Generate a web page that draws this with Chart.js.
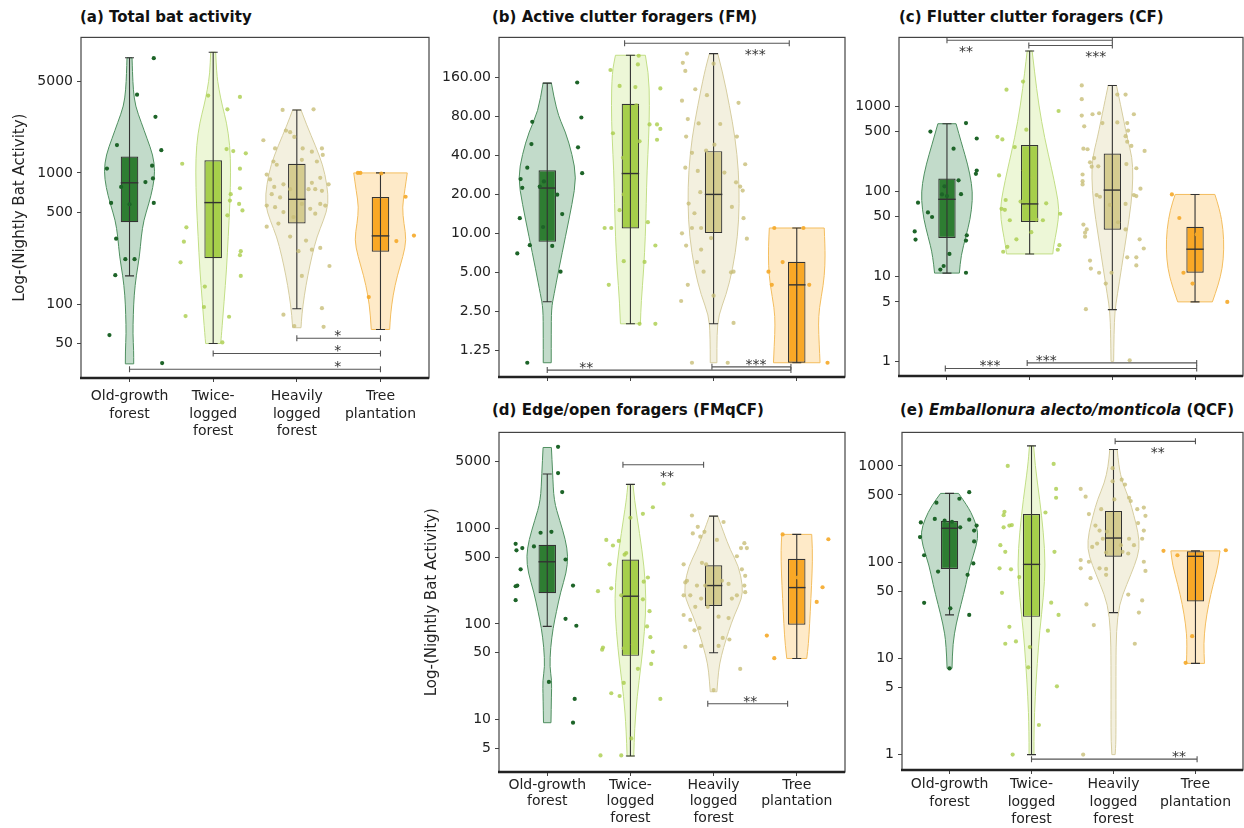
<!DOCTYPE html>
<html>
<head>
<meta charset="utf-8">
<script src="https://cdn.jsdelivr.net/npm/chart.js@4.4.1/dist/chart.umd.min.js"></script>
<style>
  body { margin: 0; background: #fff; width: 1244px; height: 828px; position: relative; overflow: hidden; font-family: 'DejaVu Sans', sans-serif; }
  .panel { position: absolute; }
  .ttl { position: absolute; font-weight: bold; font-size: 15px; line-height: 18px; color: #111; white-space: nowrap; }
</style>
</head>
<body>
<div class="ttl" style="left:80px;top:8px">(a) Total bat activity</div>
<div class="ttl" style="left:492px;top:8px">(b) Active clutter foragers (FM)</div>
<div class="ttl" style="left:899px;top:8px">(c) Flutter clutter foragers (CF)</div>
<div class="ttl" style="left:492px;top:401px">(d) Edge/open foragers (FMqCF)</div>
<div class="ttl" style="left:900px;top:401px">(e) <i>Emballonura alecto/monticola</i> (QCF)</div>

<script>
/* ===========================
   DATA
=========================== */
const categories = ["Old-growth forest", "Twice-logged forest", "Heavily logged forest", "Tree plantation"];
const categoryLines = [["Old-growth", "forest"], ["Twice-", "logged", "forest"], ["Heavily", "logged", "forest"], ["Tree", "plantation"]];

// box stats per habitat: [whisker low, q1, median, q3, whisker high]
// violins: [value, half width in category units], top to bottom
// points: [jitter in category units, value]
// sig: [from, to, level, stars, label position, side]

// (a) Total bat activity
const ticksA = [50, 100, 500, 1000, 5000];
const rangeA = [27.3, 10800];
const boxA = [[164, 421, 841, 1332, 7550], [50, 224, 594, 1250, 8320], [92, 411, 629, 1174, 3020], [64, 251, 331, 655, 1000]];
const violinA = [
  [[7550,.03],[5740,.036],[4300,.045],[3235,.07],[2430,.14],[1825,.21],[1370,.28],[1030,.305],[773,.28],[580,.23],[436,.17],[327,.14],[232,.12],[164,.08],[117,.055],[83,.045],[59,.04],[44,.05],[35,.05]],
  [[8320,.03],[5740,.04],[4300,.07],[3235,.11],[2430,.16],[1625,.2],[1030,.21],[580,.2],[327,.18],[185,.16],[104,.13],[59,.1],[50,.09]],
  [[3020,.05],[2295,.12],[1625,.22],[1154,.31],[818,.36],[580,.38],[436,.32],[327,.24],[232,.18],[164,.13],[117,.09],[83,.06],[66,.05]],
  [[1000,.32],[730,.29],[548,.26],[411,.28],[309,.31],[232,.27],[164,.2],[117,.15],[83,.12],[64,.11]]
];
const pointsA = [
  [[.29,7500],[.09,3950],[.31,2680],[.38,1490],[-.15,1630],[-.27,1080],[.27,1135],[.28,908],[.19,852],[-.1,782],[-.22,590],[.29,590],[0,577],[-.16,315],[-.05,220],[.06,220],[-.17,166],[-.24,58],[.39,35.5]],
  [[-.06,3890],[.32,3800],[.17,3055],[-.37,1175],[.16,1520],[.24,1468],[.39,1410],[.32,1077],[.32,764],[.21,689],[.2,615],[.31,580],[.35,518],[.17,475],[-.32,385],[-.35,299],[-.39,208],[.33,253],[.32,236],[.33,164],[-.1,136],[-.11,95],[-.33,81],[.19,80],[.11,51],[.06,818],[-.06,327]],
  [[-.17,3020],[.2,3055],[-.4,1774],[-.13,2103],[-.08,2045],[-.03,1880],[-.26,1538],[.07,1538],[.18,1452],[.3,1538],[.31,1371],[-.28,1222],[-.24,1154],[.06,1258],[.24,1222],[-.36,972],[-.32,892],[-.27,782],[-.16,818],[.18,841],[.28,918],[.38,818],[-.3,689],[-.2,650],[-.08,752],[.14,752],[.22,752],[.3,730],[-.36,564],[-.26,548],[-.16,503],[-.04,461],[.06,580],[.16,532],[.28,580],[.34,564],[.22,489],[-.36,389],[-.22,411],[-.08,327],[.11,305],[.18,260],[.02,253],[.28,268],[.39,195],[.06,164],[.3,93],[-.16,83],[.32,67],[-.03,68]],
  [[-.27,1000],[-.24,1000],[.3,658],[.19,302],[.4,333],[-.14,113],[.01,990]]
];
const sigA = [[2, 3, 54.8, "*", 2.49, "above"], [1, 3, 42, "*", 2.49, "above"], [0, 3, 31.8, "*", 2.49, "above"]];

// (b) Active clutter foragers (FM)
const ticksB = [1.25, 2.5, 5, 10, 20, 40, 80, 160];
const rangeB = [0.776, 327];
const boxB = [[2.96, 8.6, 22.4, 30.7, 145], [2, 10.9, 29, 100.5, 238], [2, 10.05, 20, 43.2, 245], [1, 1, 4, 6.03, 11]];
const violinB = [
  [[145,.05],[87.6,.11],[61,.22],[40.7,.3],[27,.35],[17,.3],[9.5,.22],[5.3,.14],[3.33,.08],[2.63,.05],[1.65,.048],[1,.048]],
  [[238,.18],[175,.22],[97.5,.23],[54.5,.22],[30.4,.2],[17,.19],[9.5,.18],[5.3,.16],[2.96,.13],[2,.12]],
  [[245,.05],[175,.11],[97.5,.19],[54.5,.26],[30.4,.3],[17,.31],[9.5,.29],[5.3,.23],[3.33,.15],[2.34,.06],[1.65,.04],[1,.04]],
  [[11,.33],[8,.34],[5.6,.34],[4,.32],[2.63,.27],[1.97,.26],[1.39,.27],[1,.28]]
];
const pointsB = [
  [[.36,146.6],[.41,78.6],[-.18,72.8],[-.19,49],[.37,46.2],[-.24,32.2],[.42,29.2],[-.32,26.3],[-.3,22.5],[-.09,23],[-.04,25.2],[.12,19.9],[.18,14.1],[-.33,13.1],[-.05,11.2],[-.21,8.1],[.06,8],[-.36,7],[.16,5.06],[-.24,1]],
  [[-.24,183],[-.13,138],[.06,135],[.09,202],[.1,236],[.36,132],[-.21,59.4],[.11,51.4],[.23,69.5],[.32,69.5],[.36,64.1],[.32,52.9],[-.23,11],[-.31,11],[.21,12.2],[.3,8.06],[.17,6.02],[-.08,6.1],[-.26,4],[-.08,20],[.11,2],[.3,2],[.07,97.5],[-.09,38.4],[.03,26.3],[-.13,15.1]],
  [[-.32,245],[-.37,208],[-.34,180],[0,205],[-.22,130],[-.08,117],[.3,102],[-.38,106],[-.31,76.4],[-.18,70.8],[.08,70],[-.33,56],[-.26,41.9],[-.34,32.2],[-.09,43.6],[.01,48.5],[.13,29.5],[.28,56],[.38,34.2],[.35,21.4],[.32,23],[.27,24.8],[-.19,30.4],[-.16,20.8],[-.3,17],[-.23,14.3],[-.38,10],[-.26,11],[-.15,11],[-.03,9.2],[.4,9.1],[-.15,7.5],[-.33,8.05],[.22,16],[.36,13.1],[-.2,6],[-.12,5.06],[.21,5],[.24,5.06],[-.31,4],[-.39,3],[.24,2.03],[0,3.3],[-.26,1],[.17,1]],
  [[-.27,11],[.08,11],[-.17,6],[-.34,5.06],[-.3,4],[.15,4],[.37,1]]
];
const sigB = [[0.93, 2.91, 295, "***", 2.5, "below"], [0, 2.93, 0.877, "**", 0.47, "above"], [1.98, 2.93, 0.93, "***", 2.51, "above"]];

// (c) Flutter clutter foragers (CF)
const ticksC = [1, 5, 10, 50, 100, 500, 1000];
const rangeC = [0.673, 6410];
const boxC = [[10.9, 28.2, 80.2, 141, 620], [18.3, 43.5, 70.8, 349, 4430], [4.05, 35.2, 103, 277, 1747], [5, 11, 20.8, 38.1, 91.5]];
const violinC = [
  [[620,.11],[355,.18],[208,.25],[122,.3],[78.7,.31],[46.3,.28],[29.7,.23],[17.5,.17],[10.9,.15]],
  [[4430,.03],[2490,.06],[1027,.11],[424,.18],[175,.27],[103,.32],[60.4,.36],[35.5,.33],[22.8,.29],[18.3,.28]],
  [[1747,.05],[1027,.1],[424,.18],[249,.24],[146,.25],[72,.23],[29.7,.17],[12.3,.11],[6,.06],[3.9,.03],[2.08,.02],[1,.016]],
  [[91.5,.24],[60.4,.3],[35.5,.34],[20.8,.35],[12.3,.33],[7.9,.28],[5,.21]]
];
const pointsC = [
  [[.23,631],[-.2,501],[.36,416],[.08,316],[.36,175],[.35,160],[.14,134],[-.03,114],[.17,92.3],[-.06,91.5],[0,87.5],[-.35,73.3],[-.23,56.2],[-.18,49.7],[-.39,33.6],[-.38,27],[.24,30.3],[.23,26.3],[.03,18.3],[-.04,13.2],[-.08,12],[.23,11]],
  [[-.08,1942],[-.28,1557],[.35,875],[-.04,528],[-.39,435],[-.33,405],[-.18,330],[-.37,153],[-.07,175],[.04,146],[-.29,78.7],[-.3,60.4],[-.34,62],[-.04,66],[.2,72],[.37,54.3],[-.24,45.5],[.08,46.3],[.02,33],[-.16,27.2],[.36,23.2],[-.27,22.2],[-.32,19.4],[.34,20.5],[.16,45.5],[-.11,75.4]],
  [[-.37,1747],[-.37,1205],[.06,1364],[.16,1364],[-.16,823],[-.37,773],[-.24,801],[.26,801],[-.12,631],[.06,642],[.18,631],[-.34,578],[.19,515],[.16,443],[.23,340],[.18,381],[-.35,316],[-.3,311],[.39,297],[-.22,245],[-.27,218],[-.25,194],[-.17,196],[.17,208],[.29,186],[-.36,157],[-.36,131],[-.36,120],[.34,107],[-.19,90],[-.15,86],[.26,90],[.29,87.6],[.16,70.8],[-.03,68.9],[-.35,40.5],[-.31,35.5],[-.33,32.5],[-.33,29.2],[.33,27.2],[.38,21.2],[.16,35.5],[.07,43.1],[-.27,15.3],[-.26,12.3],[.18,16.7],[.29,16.7],[.29,13.4],[-.01,11],[-.16,11],[-.08,8.2],[-.32,4.1],[.21,1.03]],
  [[-.28,91.5],[-.19,48.4],[-.14,11],[-.03,8.2],[.39,5],[.02,31],[.06,14.9]]
];
const sigC = [[0, 2, 5930, "**", 0.23, "below"], [0.99, 2, 5150, "***", 1.8, "below"], [-0.02, 3.02, 0.826, "***", 0.52, "above"], [0.97, 3.02, 0.959, "***", 1.2, "above"]];

// (d) Edge/open foragers (FMqCF)
const ticksD = [5, 10, 50, 100, 500, 1000, 5000];
const rangeD = [2.82, 10100];
const boxD = [[94.2, 210, 447, 673, 3710], [4.14, 46.3, 195, 472, 2885], [50, 154, 252, 410, 1343], [43.5, 98, 240, 480, 865]];
const violinD = [
  [[7020,.05],[3790,.065],[1945,.08],[1213,.15],[757,.22],[511,.25],[344,.23],[215,.16],[134,.11],[90.5,.07],[56.5,.04],[35.2,.03],[25.7,.055],[17.3,.05],[9.25,.045]],
  [[2885,.03],[1945,.05],[885,.11],[403,.165],[184,.19],[83.6,.17],[38.1,.13],[17.3,.08],[7.9,.05],[4.14,.04]],
  [[1343,.05],[885,.125],[598,.2],[403,.3],[252,.35],[184,.34],[124,.25],[83.6,.18],[56.5,.12],[38.1,.07],[25.7,.05],[19.5,.04]],
  [[865,.18],[598,.19],[344,.185],[184,.17],[100,.155],[61,.14],[43.5,.12]]
];
const pointsD = [
  [[.13,7130],[.13,3790],[.18,2400],[-.38,689],[-.37,589],[-.3,622],[-.38,248],[-.36,252],[-.32,373],[-.38,177],[-.16,647],[-.08,900],[.05,921],[.22,472],[.31,252],[.22,113],[.35,95.7],[.02,24.7],[.33,16.4],[.31,9.25]],
  [[.4,2930],[.27,1664],[0,1292],[.15,1420],[-.29,757],[-.21,662],[-.14,739],[-.05,552],[-.25,420],[-.07,531],[.21,306],[.16,277],[.06,258],[-.23,236],[-.39,220],[-.11,199],[.15,181],[.23,136],[.2,94.2],[.24,72.6],[.27,51],[.25,38.1],[-.33,56.5],[-.34,53.8],[.09,33.9],[-.08,55.6],[-.23,18.8],[-.13,17.6],[-.08,24.1],[.36,16.4],[.01,6.34],[-.36,4.2],[-.11,4.2],[.03,61]],
  [[-.26,1364],[.12,1166],[-.19,1037],[-.11,921],[-.25,885],[-.16,818],[.04,757],[.37,700],[.33,622],[.4,622],[.28,511],[-.36,420],[-.14,436],[-.09,420],[.34,373],[.38,319],[-.32,283],[-.34,272],[-.2,252],[-.1,252],[.1,283],[.18,262],[.38,215],[.37,252],[-.36,199],[-.28,199],[-.15,184],[.28,199],[.22,184],[-.22,151],[-.07,151],[-.36,124],[-.28,110],[.06,119],[.18,115],[-.17,90.6],[-.23,85.7],[-.34,57.4],[-.15,58.8],[.11,71.4],[.19,68.7],[.06,58.8],[.32,33.8],[0,20.3]],
  [[-.17,865],[.38,769],[.24,170],[.31,242],[-.36,75.5],[-.27,43.8],[.01,306]]
];
const sigD = [[0.91, 1.88, 4630, "**", 1.44, "below"], [1.93, 2.89, 14.6, "**", 2.44, "above"]];

// (e) Emballonura alecto/monticola (QCF)
const ticksE = [1, 5, 10, 50, 100, 500, 1000];
const rangeE = [0.692, 2230];
const boxE = [[28.3, 85, 225, 267, 518], [1, 27, 94.8, 316, 1614], [29.9, 114, 178, 341, 1480], [8.87, 39.1, 115, 130, 131]];
const violinE = [
  [[518,.11],[384,.22],[281,.3],[205,.35],[150,.33],[93.3,.25],[58.3,.2],[36.4,.14],[22.8,.08],[14.2,.04],[7.87,.03]],
  [[1614,.025],[985,.045],[449,.1],[205,.145],[93.3,.17],[42.6,.145],[19.4,.1],[8.85,.07],[4.04,.045],[1.85,.03],[1,.03]],
  [[1480,.045],[985,.065],[665,.11],[449,.195],[303,.25],[205,.3],[138,.32],[93.3,.26],[58.3,.16],[36.4,.07],[19.4,.035],[8.85,.03],[2.73,.03],[1.35,.03],[1,.02]],
  [[131,.3],[93.3,.28],[58.3,.215],[36.4,.16],[22.8,.12],[14.2,.1],[8.87,.11]]
];
const pointsE = [
  [[.24,534],[.12,456],[-.16,415],[-.35,259],[-.18,281],[-.06,270],[.03,263],[.13,230],[.24,276],[.33,240],[.3,213],[-.36,182],[.3,164],[-.31,118],[.29,97],[.22,73.8],[-.14,79.8],[-.31,37.8],[.01,33.1],[.24,28.3],[0,7.87]],
  [[-.29,1000],[.27,1048],[.3,577],[.3,467],[-.33,333],[-.34,308],[.17,328],[-.34,230],[-.27,240],[-.24,243],[-.38,150],[-.32,128],[.28,128],[-.39,86.3],[-.25,84.3],[-.15,69.9],[-.36,48],[.24,37.9],[.33,28.3],[-.27,21.3],[-.19,15],[-.32,14.2],[.2,19.4],[-.04,8.07],[.31,5.12],[.09,2.03],[-.23,1],[-.02,13.1]],
  [[-.4,577],[-.34,479],[-.01,947],[-.01,692],[.1,719],[.14,640],[.19,467],[.21,432],[-.15,355],[-.3,316],[-.22,240],[-.17,213],[-.08,208],[-.13,175],[.01,449],[.29,355],[.37,369],[.39,303],[.3,255],[.37,213],[.35,175],[.25,150],[.18,123],[.11,128],[-.2,156],[-.26,144],[-.4,105],[-.3,101],[-.17,86.3],[-.09,85],[-.09,73.8],[-.28,68.2],[-.4,86.3],[.39,81.1],[.37,101],[.18,46],[.35,40],[.31,29.9],[-.33,36.4],[-.24,22.2],[.26,14.2],[-.37,1],[-.09,126],[.09,150],[.19,175]],
  [[-.39,131],[-.22,118],[.37,133],[-.04,17],[-.12,9]]
];
const sigE = [[2.02, 3, 1800, "**", 2.54, "below"], [1, 3.02, 0.897, "**", 2.8, "above"]];

/* ===========================
   STYLE
=========================== */
Chart.defaults.font.family = "'DejaVu Sans', sans-serif";
Chart.defaults.color = "#222";

const boxFill     = ["#2e7d32", "#a6cf4b", "#d5cc90", "#f9a826"];
const violinFill  = ["rgba(70,145,95,0.33)", "rgba(190,225,110,0.28)", "rgba(215,205,150,0.3)", "rgba(252,200,110,0.38)"];
const violinEdge  = ["#4f8f60", "#c2de86", "#d6cda0", "#f3bd5e"];
const dotFill     = ["#1d6428", "rgba(170,205,75,0.8)", "rgba(200,190,120,0.8)", "rgba(245,168,40,0.9)"];
const INK = "#333";

/* ===========================
   DRAWING HELPERS
=========================== */
function smoothSide(ctx, pts, first) {
  if (first) ctx.moveTo(pts[0].x, pts[0].y); else ctx.lineTo(pts[0].x, pts[0].y);
  for (let k = 1; k < pts.length - 1; k++) {
    const mx = (pts[k].x + pts[k + 1].x) / 2, my = (pts[k].y + pts[k + 1].y) / 2;
    ctx.quadraticCurveTo(pts[k].x, pts[k].y, mx, my);
  }
  const last = pts[pts.length - 1];
  ctx.lineTo(last.x, last.y);
}

const panelData = {};

const violinPlugin = {
  id: "violins",
  beforeDatasetsDraw(chart) {
    const p = panelData[chart.canvas.id];
    const { ctx, scales: { x, y } } = chart;
    ctx.save();
    p.violins.forEach((prof, i) => {
      const right = prof.map(([v, w]) => ({ x: x.getPixelForValue(i + w), y: y.getPixelForValue(v) }));
      const left  = prof.map(([v, w]) => ({ x: x.getPixelForValue(i - w), y: y.getPixelForValue(v) })).reverse();
      ctx.beginPath();
      smoothSide(ctx, right, true);
      smoothSide(ctx, left, false);
      ctx.closePath();
      ctx.fillStyle = violinFill[i];
      ctx.fill();
      ctx.strokeStyle = violinEdge[i];
      ctx.lineWidth = 1;
      ctx.stroke();
    });
    ctx.restore();
  },
  afterDatasetDraw(chart, args) {
    if (args.meta.type !== "bar") return;
    const p = panelData[chart.canvas.id];
    const { ctx, scales: { x, y } } = chart;
    ctx.save();
    ctx.strokeStyle = INK;
    p.box.forEach((b, i) => {
      const cx = x.getPixelForValue(i);
      const half = args.meta.data[i].width / 2;
      const [lo, q1, med, q3, hi] = b.map(v => y.getPixelForValue(v));
      ctx.lineWidth = 1.1;
      ctx.beginPath();
      ctx.moveTo(cx, lo); ctx.lineTo(cx, hi);
      ctx.moveTo(cx - 4.5, lo); ctx.lineTo(cx + 4.5, lo);
      ctx.moveTo(cx - 4.5, hi); ctx.lineTo(cx + 4.5, hi);
      ctx.stroke();
      ctx.lineWidth = 1.4;
      ctx.beginPath();
      ctx.moveTo(cx - half, med); ctx.lineTo(cx + half, med);
      ctx.stroke();
    });
    ctx.restore();
  },
  afterDraw(chart) {
    const p = panelData[chart.canvas.id];
    const { ctx, chartArea: a, scales: { x, y } } = chart;
    ctx.save();
    // significance brackets
    ctx.strokeStyle = "#555";
    ctx.fillStyle = INK;
    ctx.lineWidth = 1.1;
    ctx.font = "14px 'DejaVu Sans'";
    ctx.textAlign = "center";
    ctx.textBaseline = "alphabetic";
    p.sig.forEach(([from, to, level, stars, lx, side]) => {
      const x1 = x.getPixelForValue(from), x2 = x.getPixelForValue(to), yy = y.getPixelForValue(level);
      ctx.beginPath();
      ctx.moveTo(x1, yy); ctx.lineTo(x2, yy);
      ctx.moveTo(x1, yy - 3); ctx.lineTo(x1, yy + 3);
      ctx.moveTo(x2, yy - 3); ctx.lineTo(x2, yy + 3);
      ctx.stroke();
      ctx.fillText(stars, x.getPixelForValue(lx), side === "above" ? yy + 2 : yy + 16);
    });
    // frame
    ctx.strokeStyle = "#444";
    ctx.lineWidth = 1.2;
    ctx.strokeRect(a.left, a.top, a.right - a.left, a.bottom - a.top);
    ctx.strokeStyle = "#222";
    ctx.lineWidth = 2.4;
    ctx.beginPath();
    ctx.moveTo(a.left - 1, a.bottom); ctx.lineTo(a.right, a.bottom);
    ctx.stroke();
    ctx.restore();
  }
};

/* ===========================
   PANELS
=========================== */
function makePanel(id, cfg) {
  const [cx, cy, cw, ch] = cfg.canvas;
  const [al, at, ar, ab] = cfg.area;
  const wrap = document.createElement("div");
  wrap.className = "panel";
  wrap.style.cssText = `left:${cx}px;top:${cy}px;width:${cw}px;height:${ch}px`;
  const canvas = document.createElement("canvas");
  canvas.id = id;
  canvas.width = cw; canvas.height = ch;
  canvas.style.width = cw + "px"; canvas.style.height = ch + "px";
  wrap.appendChild(canvas);
  document.body.appendChild(wrap);
  panelData[id] = cfg;

  new Chart(canvas, {
    type: "bar",
    data: {
      datasets: [
        {
          type: "bar",
          data: cfg.box.map((b, i) => ({ x: i, y: [b[1], b[3]] })),
          backgroundColor: boxFill,
          borderColor: INK,
          borderWidth: 1.2,
          borderSkipped: false,
          barPercentage: 0.21,
          categoryPercentage: 1,
          order: 1
        },
        ...cfg.points.map((pts, i) => ({
          type: "scatter",
          label: categories[i],
          data: pts.map(([dx, v]) => ({ x: i + dx, y: v })),
          backgroundColor: dotFill[i],
          borderWidth: 0,
          pointRadius: 2.1,
          order: 0
        }))
      ]
    },
    options: {
      responsive: false,
      animation: false,
      devicePixelRatio: 1,
      layout: { autoPadding: false, padding: { left: 0, top: at - cy, right: cx + cw - ar, bottom: 0 } },
      plugins: { legend: { display: false }, tooltip: { enabled: false } },
      scales: {
        x: {
          type: "linear", min: -0.58, max: 3.58, offset: false,
          grid: { offset: false, drawOnChartArea: false, drawTicks: true, tickLength: 4, color: "#444" },
          border: { display: false },
          ticks: {
            autoSkip: false, maxRotation: 0, padding: cfg.xPad, color: "#222",
            font: { size: 14, lineHeight: cfg.xLine },
            callback: v => (cfg.showX ? categoryLines[v] : "")
          },
          afterBuildTicks: s => { s.ticks = [0, 1, 2, 3].map(v => ({ value: v })); },
          afterFit: s => { s.height = cy + ch - ab; }
        },
        y: {
          type: "logarithmic", min: cfg.range[0], max: cfg.range[1],
          grid: { drawOnChartArea: false, drawTicks: true, tickLength: 4, color: "#444" },
          border: { display: false },
          ticks: {
            padding: 4, color: "#222", font: { size: 14 },
            callback: v => (cfg.decimals ? Number(v).toFixed(2) : String(v))
          },
          title: {
            display: !!cfg.yTitle, text: "Log-(Nightly Bat Activity)", color: "#222",
            font: { size: 15 }, padding: { top: cfg.yTitlePad || 0, bottom: 0 }
          },
          afterBuildTicks: s => { s.ticks = cfg.ticks.map(v => ({ value: v })); },
          afterFit: s => { s.width = al - cx; }
        }
      }
    },
    plugins: [violinPlugin]
  });
}

makePanel("pa", { canvas: [0, 25, 440, 420], area: [81, 30, 429, 378], range: rangeA, ticks: ticksA,
  box: boxA, violins: violinA, points: pointsA, sig: sigA, showX: true, xPad: 6, xLine: 1.24, yTitle: true, yTitlePad: 11 });
makePanel("pb", { canvas: [440, 25, 410, 420], area: [499, 31, 845, 377], range: rangeB, ticks: ticksB,
  box: boxB, violins: violinB, points: pointsB, sig: sigB, showX: false, xPad: 6, xLine: 1.24, decimals: true });
makePanel("pc", { canvas: [850, 25, 394, 420], area: [899, 31, 1243, 376], range: rangeC, ticks: ticksC,
  box: boxC, violins: violinC, points: pointsC, sig: sigC, showX: false, xPad: 6, xLine: 1.24 });
makePanel("pd", { canvas: [400, 420, 450, 408], area: [499, 425, 845, 772], range: rangeD, ticks: ticksD,
  box: boxD, violins: violinD, points: pointsD, sig: sigD, showX: true, xPad: 1, xLine: 1.18, yTitle: true, yTitlePad: 23 });
makePanel("pe", { canvas: [850, 420, 394, 408], area: [902, 427, 1243, 770], range: rangeE, ticks: ticksE,
  box: boxE, violins: violinE, points: pointsE, sig: sigE, showX: true, xPad: 2, xLine: 1.24 });
</script>
</body>
</html>
